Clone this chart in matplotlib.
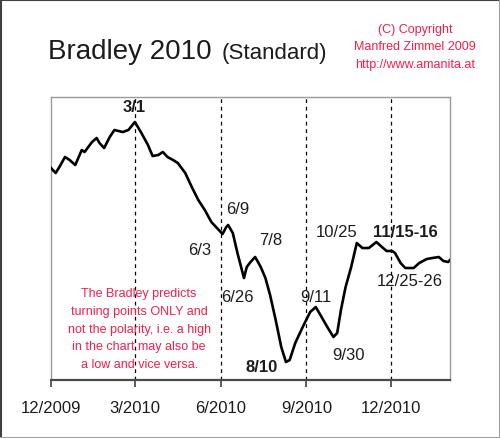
import matplotlib
matplotlib.use("Agg")
import matplotlib.pyplot as plt
from matplotlib.lines import Line2D
import pandas as pd

plt.rcParams['font.family'] = ['Liberation Sans', 'DejaVu Sans']

# Bradley siderograph 2010 (arbitrary units)
dates = ["2009-12-01", "2009-12-06", "2009-12-10", "2009-12-16", "2009-12-21",
         "2009-12-27", "2010-01-03", "2010-01-06", "2010-01-10", "2010-01-14",
         "2010-01-19", "2010-01-22", "2010-01-27", "2010-02-02", "2010-02-07",
         "2010-02-16", "2010-02-22", "2010-03-01", "2010-03-08", "2010-03-15",
         "2010-03-20", "2010-03-26", "2010-03-31", "2010-04-05", "2010-04-11",
         "2010-04-16", "2010-04-24", "2010-05-01", "2010-05-08", "2010-05-15",
         "2010-05-22", "2010-06-03", "2010-06-07", "2010-06-09", "2010-06-14",
         "2010-06-19", "2010-06-26", "2010-06-29", "2010-07-03", "2010-07-08",
         "2010-07-14", "2010-07-19", "2010-07-24", "2010-07-30", "2010-08-05",
         "2010-08-10", "2010-08-14", "2010-08-20", "2010-08-28", "2010-09-05",
         "2010-09-11", "2010-09-16", "2010-09-24", "2010-09-30", "2010-10-04",
         "2010-10-08", "2010-10-13", "2010-10-19", "2010-10-22", "2010-10-25",
         "2010-10-31", "2010-11-07", "2010-11-15", "2010-11-21", "2010-11-26",
         "2010-12-02", "2010-12-05", "2010-12-11", "2010-12-16", "2010-12-25",
         "2010-12-31", "2011-01-08", "2011-01-14", "2011-01-21", "2011-01-26",
         "2011-01-31", "2011-02-02"]
values = [212, 207, 213, 223, 220,
          215, 230, 228, 233, 238,
          242, 237, 232, 243, 250,
          248, 250, 258, 247, 235,
          224, 225, 228, 223, 220,
          217, 207, 193, 180, 170,
          158, 146, 153, 155, 147,
          127, 102, 113, 118, 123,
          113, 102, 85, 60, 33,
          18, 20, 37, 53, 68,
          73, 65, 52, 43, 47,
          70, 93, 113, 125, 137,
          132, 132, 138, 133, 129,
          129, 127, 117, 112, 112,
          117, 121, 122, 123, 119,
          118, 120]

# turning point labels: text, date, value, bold
tp_text = ["3/1", "6/3", "6/9", "6/26", "7/8", "8/10", "9/11", "9/30",
           "10/25", "11/15-16", "12/25-26"]
tp_date = ["2010-02-28", "2010-05-09", "2010-06-19", "2010-06-19", "2010-07-25",
           "2010-07-15", "2010-09-11", "2010-10-16", "2010-10-03", "2010-12-16",
           "2010-12-21"]
tp_value = [273, 130, 171, 83, 140, 13, 83, 25, 148, 148, 99]
tp_bold = [True, False, False, False, False, True, False, False, False, True, False]

tick_dates = ["2009-12-01", "2010-03-01", "2010-06-01", "2010-09-01", "2010-12-01"]
tick_labels = ["12/2009", "3/2010", "6/2010", "9/2010", "12/2010"]

red = '#f2204c'
ink = '#1c1c1c'

x = pd.to_datetime(dates)
fig = plt.figure(figsize=(5.0, 4.38), dpi=100)
ax = fig.add_axes([0.102, 0.1324, 0.798, 0.6461])

for d in tick_dates[1:]:
    ax.axvline(pd.Timestamp(d), color='black', lw=0.9, ls=(0, (3, 3)), zorder=1)

ax.plot(x, values, color='black', lw=1.9, zorder=3, solid_joinstyle='round')

ax.set_xlim(pd.Timestamp("2009-12-01"), pd.Timestamp("2011-02-02"))
ax.set_ylim(0, 283)
ax.set_yticks([])
ax.set_xticks(pd.to_datetime(tick_dates))
ax.set_xticklabels(tick_labels, fontsize=12, color=ink)
ax.tick_params(axis='x', direction='out', length=5, width=1.2, color='#404040', pad=10)

for side in ['top', 'left', 'right']:
    ax.spines[side].set_color('#9a9a9a')
    ax.spines[side].set_linewidth(1.0)
ax.spines['bottom'].set_color('#4a4a4a')
ax.spines['bottom'].set_linewidth(1.6)

for t, d, v, b in zip(tp_text, tp_date, tp_value, tp_bold):
    ax.text(pd.Timestamp(d), v, t, fontsize=12, ha='center', va='center',
            color=ink, fontweight='bold' if b else 'normal', zorder=4)

ax.text(0.221, 0.178,
        "The Bradley predicts\nturning points ONLY and\nnot the polarity, i.e. a high\n"
        "in the chart may also be\na low and vice versa.",
        transform=ax.transAxes, ha='center', va='center', fontsize=9,
        color=red, linespacing=1.65, zorder=2)

fig.text(48 / 500, 1 - 52 / 438, "Bradley 2010", fontsize=20, color=ink,
         ha='left', va='center')
fig.text(222 / 500, 1 - 54 / 438, "(Standard)", fontsize=16, color=ink,
         ha='left', va='center')
fig.text(415 / 500, 1 - 47.5 / 438, "(C) Copyright\nManfred Zimmel 2009\nhttp://www.amanita.at",
         fontsize=9, color=red, ha='center', va='center', linespacing=1.65)

# outer frame
fig.add_artist(Line2D([0.001, 0.001], [0, 1], transform=fig.transFigure, color='#404040', lw=1.5))
fig.add_artist(Line2D([0, 1], [0.999, 0.999], transform=fig.transFigure, color='#404040', lw=1.5))
fig.add_artist(Line2D([0.999, 0.999], [0, 1], transform=fig.transFigure, color='#a0a0a0', lw=1.5))
fig.add_artist(Line2D([0, 1], [0.001, 0.001], transform=fig.transFigure, color='#a0a0a0', lw=1.5))

fig.savefig("out.png", dpi=100)
